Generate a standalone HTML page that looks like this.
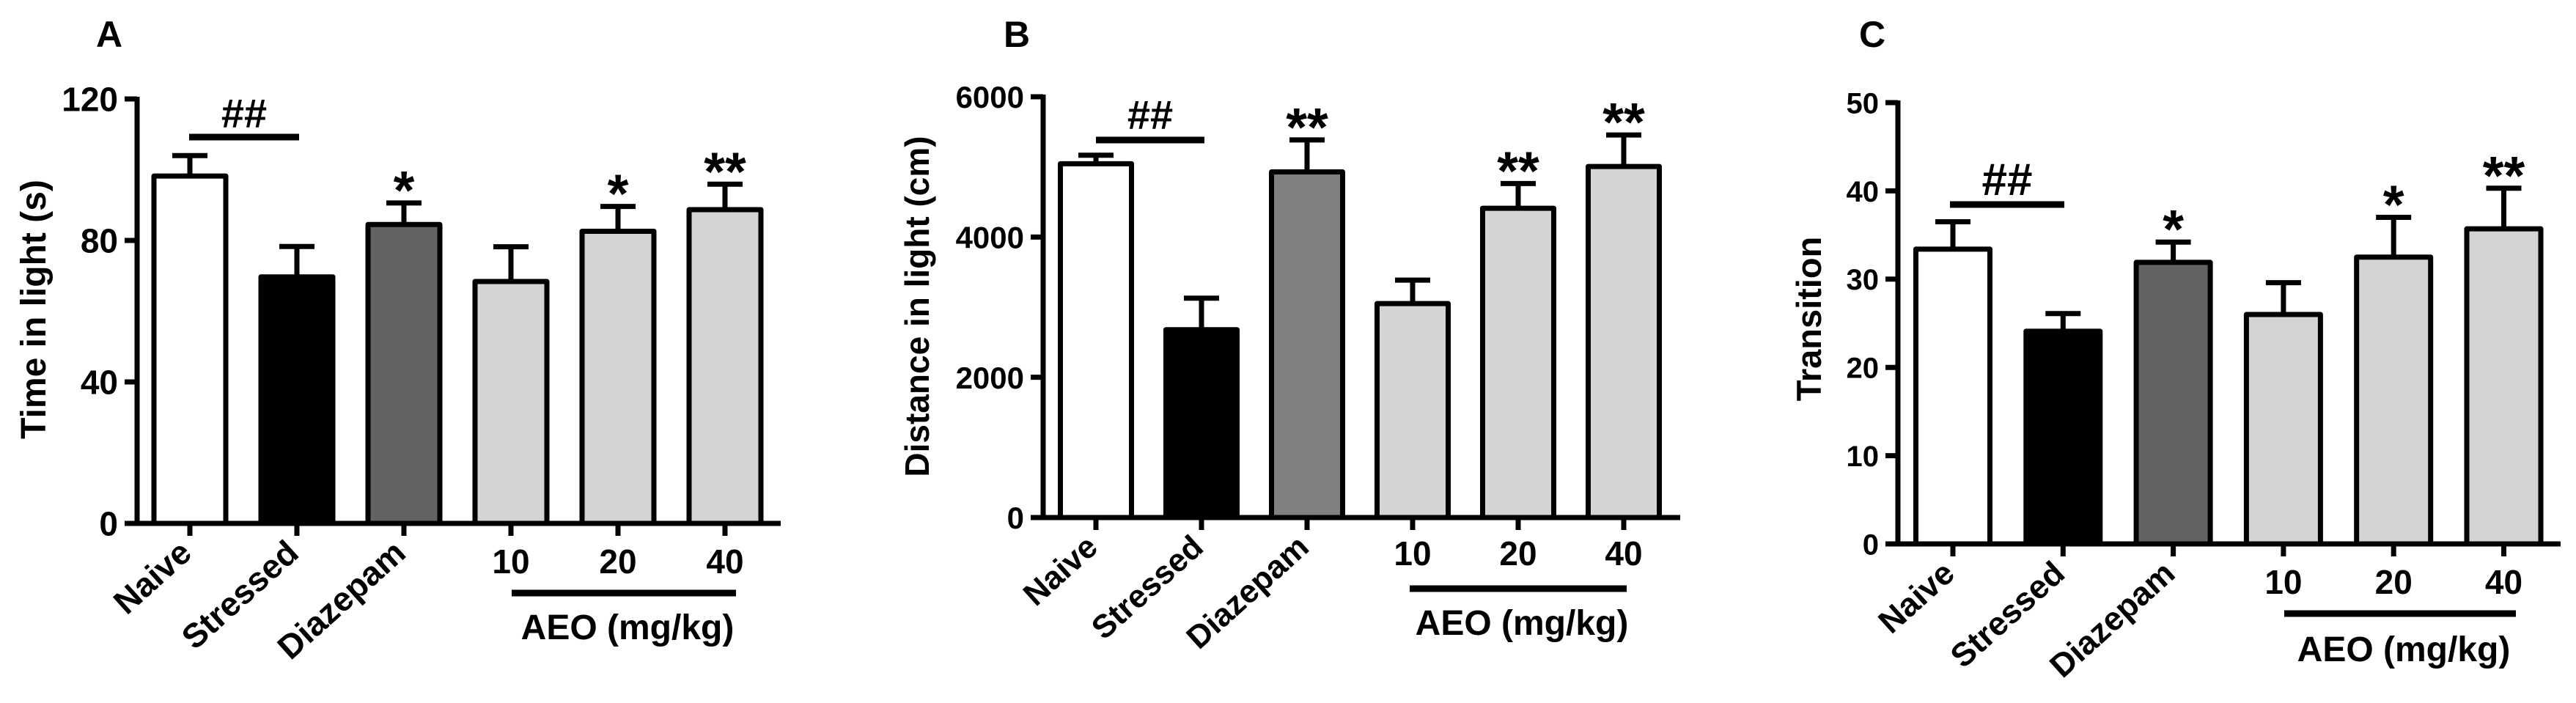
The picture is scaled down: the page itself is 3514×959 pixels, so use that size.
<!DOCTYPE html>
<html><head><meta charset="utf-8">
<style>
html,body{margin:0;padding:0;background:#fff;}
svg{display:block;}
text{font-family:"Liberation Sans",Arial,sans-serif;font-weight:bold;fill:#000;}
</style></head>
<body>
<svg id="fig" width="3514" height="959" viewBox="0 0 3514 959" xmlns="http://www.w3.org/2000/svg"></svg>
<script>
const categories = ["Naive","Stressed","Diazepam","10","20","40"];
const meansA = [98.2, 69.7, 84.5, 68.4, 82.6, 88.7];
const errA   = [104.0, 78.3, 90.6, 78.2, 89.6, 95.9];
const sigA   = ["", "", "*", "", "*", "**"];
const ticksA = [0, 40, 80, 120];
const meansB = [5045, 2679, 4929, 3051, 4410, 5006];
const errB   = [5167, 3128, 5385, 3385, 4763, 5455];
const sigB   = ["", "", "**", "", "**", "**"];
const ticksB = [0, 2000, 4000, 6000];
const meansC = [33.4, 24.1, 31.9, 26.0, 32.5, 35.7];
const errC   = [36.5, 26.1, 34.2, 29.6, 37.0, 40.3];
const sigC   = ["", "", "*", "", "*", "**"];
const ticksC = [0, 10, 20, 30, 40, 50];

const NS = "http://www.w3.org/2000/svg";
const svg = document.getElementById("fig");
function mk(tag, attrs, parent, txt){
  const e = document.createElementNS(NS, tag);
  for (const k in attrs) e.setAttribute(k, attrs[k]);
  if (txt !== undefined) e.textContent = txt;
  parent.appendChild(e);
  return e;
}

const panels = [
  {id:"a", letter:"A", lx:131, means:meansA, errs:errA, sig:sigA, ticks:ticksA, ymax:120,
   ax:187, y0:714, ytop:135, xend:1065, x0:259, dx:146, bw:98, tf:46, lf:48,
   title:"Time in light (s)", tx:62, ty:422, diaz:"#636363",
   hashX:[258,408], hashY:187, hashTextY:174, hashSerif:false,
   numY:782, aeoY:809, aeoX:[698,1004], aeoTextY:872},
  {id:"b", letter:"B", lx:1369, means:meansB, errs:errB, sig:sigB, ticks:ticksB, ymax:6000,
   ax:1423, y0:706, ytop:132, xend:2292, x0:1495, dx:144, bw:97, tf:42, lf:46,
   title:"Distance in light (cm)", tx:1267, ty:418, diaz:"#808080",
   hashX:[1495,1643], hashY:191, hashTextY:176, hashSerif:false,
   numY:771, aeoY:803, aeoX:[1923,2219], aeoTextY:866},
  {id:"c", letter:"C", lx:2536, means:meansC, errs:errC, sig:sigC, ticks:ticksC, ymax:50,
   ax:2589, y0:742, ytop:140, xend:3493, x0:2664, dx:150.3, bw:101, tf:40, lf:47,
   title:"Transition", tx:2484, ty:435, diaz:"#636363",
   hashX:[2660,2816], hashY:279, hashTextY:266, hashSerif:true,
   numY:810, aeoY:837, aeoX:[3116,3432], aeoTextY:902}
];
const fills = p => ["#ffffff","#000000",p.diaz,"#d4d4d4","#d4d4d4","#d4d4d4"];

panels.forEach(p => {
  const g = mk("g", {}, svg);
  
  
  const ys = v => p.y0 - (v / p.ymax) * (p.y0 - p.ytop);
  const xs = i => p.x0 + i * p.dx;

  const L = mk("text", {x:p.lx, y:64, "font-size":50}, g, p.letter);
  
  

  p.means.forEach((v, i) => {
    const cx = xs(i), top = ys(v), et = ys(p.errs[i]);
    const eb = mk("line", {x1:cx, x2:cx, y1:top, y2:et, stroke:"#000", "stroke-width":7}, g);
    
    
    const cap = mk("line", {x1:cx-24, x2:cx+24, y1:et, y2:et, stroke:"#000", "stroke-width":7}, g);
    
    
    const r = mk("rect", {x:cx-p.bw/2, y:top, width:p.bw, height:p.y0-top, fill:fills(p)[i], stroke:"#000", "stroke-width":7, "stroke-linejoin":"round"}, g);
    
    
    if (p.sig[i]) {
      const s = mk("text", {x:cx, y:et+8, "font-size":74, "text-anchor":"middle", "font-weight":"normal"}, g, p.sig[i]);
      
      
    }
    const t = mk("line", {x1:cx, x2:cx, y1:p.y0, y2:p.y0+17, stroke:"#000", "stroke-width":7}, g);
    
    
    if (i < 3) {
      const tl = mk("text", {x:0, y:0, "font-size":p.lf-2, "text-anchor":"end",
        transform:`translate(${cx+5},${p.y0+44}) rotate(-42)`}, g, categories[i]);
      
      
    } else {
      const tl = mk("text", {x:cx, y:p.numY, "font-size":46, "text-anchor":"middle"}, g, categories[i]);
      
      
    }
  });

  const ya = mk("line", {x1:p.ax, x2:p.ax, y1:p.ytop-3, y2:p.y0+3, stroke:"#000", "stroke-width":7}, g);
  
  
  const xa = mk("line", {x1:p.ax-3, x2:p.xend, y1:p.y0, y2:p.y0, stroke:"#000", "stroke-width":7}, g);
  
  
  p.ticks.forEach(v => {
    const y = ys(v);
    const t = mk("line", {x1:p.ax-17, x2:p.ax, y1:y, y2:y, stroke:"#000", "stroke-width":7}, g);
    
    
    const tl = mk("text", {x:p.ax-26, y:y+p.tf*0.36, "font-size":p.tf, "text-anchor":"end"}, g, String(v));
    
    
  });
  const yt = mk("text", {x:0, y:0, "font-size":p.lf, "text-anchor":"middle",
    transform:`translate(${p.tx},${p.ty}) rotate(-90)`}, g, p.title);
  
  

  const hl = mk("line", {x1:p.hashX[0], x2:p.hashX[1], y1:p.hashY, y2:p.hashY, stroke:"#000", "stroke-width":9}, g);
  
  
  const ht = mk("text", {x:(p.hashX[0]+p.hashX[1])/2, y:p.hashTextY, "font-size":p.hashSerif?62:56,
    "text-anchor":"middle", "font-weight":"normal",
    "font-family": p.hashSerif ? "'Liberation Serif', serif" : "'Liberation Sans', sans-serif"}, g, "##");
  
  

  const al = mk("line", {x1:p.aeoX[0], x2:p.aeoX[1], y1:p.aeoY, y2:p.aeoY, stroke:"#000", "stroke-width":9}, g);
  
  
  const at = mk("text", {x:(p.aeoX[0]+p.aeoX[1])/2+5, y:p.aeoTextY, "font-size":48, "text-anchor":"middle"}, g, "AEO (mg/kg)");
  
  
});
</script>
</body></html>
